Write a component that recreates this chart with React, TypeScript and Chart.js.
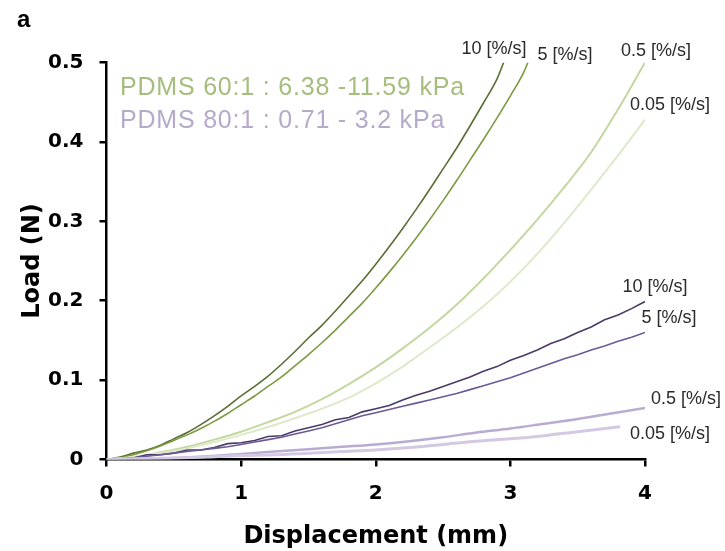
import React, { useEffect, useRef } from "react";
import { Chart, registerables } from "chart.js";

Chart.register(...registerables);

// ---- Data (Displacement in mm, Load in N) ----
const xTicks = [0, 1, 2, 3, 4];
const yTicks = [0, 0.1, 0.2, 0.3, 0.4, 0.5];

// PDMS 60:1
const g10X = [0, 0.1, 0.2, 0.3, 0.4, 0.5, 0.6, 0.7, 0.8, 0.9, 1.0, 1.1, 1.2, 1.3, 1.4, 1.5, 1.6, 1.7, 1.8, 1.9, 2.0, 2.1, 2.2, 2.3, 2.4, 2.5, 2.6, 2.7, 2.8, 2.9, 2.95];
const g10Y = [0, 0.003, 0.008, 0.012, 0.018, 0.026, 0.034, 0.044, 0.055, 0.067, 0.08, 0.092, 0.105, 0.12, 0.136, 0.153, 0.169, 0.187, 0.206, 0.225, 0.246, 0.268, 0.291, 0.315, 0.34, 0.366, 0.392, 0.42, 0.449, 0.479, 0.5];

const g5X = [0, 0.1, 0.2, 0.3, 0.4, 0.5, 0.6, 0.7, 0.8, 0.9, 1.0, 1.1, 1.2, 1.3, 1.4, 1.5, 1.6, 1.7, 1.8, 1.9, 2.0, 2.1, 2.2, 2.3, 2.4, 2.5, 2.6, 2.7, 2.8, 2.9, 3.0, 3.1, 3.13];
const g5Y = [0, 0.002, 0.006, 0.011, 0.017, 0.024, 0.031, 0.039, 0.048, 0.058, 0.069, 0.08, 0.092, 0.104, 0.118, 0.132, 0.147, 0.163, 0.18, 0.197, 0.216, 0.236, 0.257, 0.279, 0.302, 0.326, 0.351, 0.377, 0.403, 0.43, 0.458, 0.488, 0.5];

const g05X = [0, 0.2, 0.4, 0.6, 0.8, 1.0, 1.2, 1.4, 1.6, 1.8, 2.0, 2.2, 2.4, 2.6, 2.8, 3.0, 3.2, 3.4, 3.6, 3.8, 4.0];
const g05Y = [0, 0.003, 0.009, 0.016, 0.025, 0.035, 0.047, 0.06, 0.076, 0.095, 0.116, 0.14, 0.166, 0.195, 0.228, 0.264, 0.302, 0.343, 0.387, 0.441, 0.5];

const g005X = [0, 0.2, 0.4, 0.6, 0.8, 1.0, 1.2, 1.4, 1.6, 1.8, 2.0, 2.2, 2.4, 2.6, 2.8, 3.0, 3.2, 3.4, 3.6, 3.8, 4.0];
const g005Y = [0, 0.003, 0.008, 0.014, 0.022, 0.031, 0.041, 0.052, 0.064, 0.078, 0.096, 0.117, 0.141, 0.166, 0.193, 0.224, 0.259, 0.298, 0.34, 0.383, 0.428];

// PDMS 80:1
const p10X = [0, 0.1, 0.2, 0.3, 0.4, 0.5, 0.6, 0.7, 0.8, 0.9, 1.0, 1.1, 1.2, 1.3, 1.4, 1.5, 1.6, 1.7, 1.8, 1.9, 2.0, 2.1, 2.2, 2.3, 2.4, 2.5, 2.6, 2.7, 2.8, 2.9, 3.0, 3.1, 3.2, 3.3, 3.4, 3.5, 3.6, 3.7, 3.8, 3.9, 4.0];
const p10Y = [0, 0.001, 0.002, 0.006, 0.006, 0.008, 0.012, 0.012, 0.015, 0.02, 0.021, 0.024, 0.029, 0.03, 0.036, 0.04, 0.044, 0.05, 0.053, 0.06, 0.064, 0.068, 0.075, 0.081, 0.086, 0.092, 0.098, 0.104, 0.111, 0.117, 0.125, 0.131, 0.138, 0.146, 0.152, 0.16, 0.167, 0.176, 0.182, 0.19, 0.199];

const p5X = [0, 0.1, 0.2, 0.3, 0.4, 0.5, 0.6, 0.7, 0.8, 0.9, 1.0, 1.1, 1.2, 1.3, 1.4, 1.5, 1.6, 1.7, 1.8, 1.9, 2.0, 2.1, 2.2, 2.3, 2.4, 2.5, 2.6, 2.7, 2.8, 2.9, 3.0, 3.1, 3.2, 3.3, 3.4, 3.5, 3.6, 3.7, 3.8, 3.9, 4.0];
const p5Y = [0, 0, 0.002, 0.004, 0.006, 0.008, 0.01, 0.012, 0.014, 0.016, 0.019, 0.022, 0.025, 0.028, 0.032, 0.036, 0.04, 0.045, 0.05, 0.055, 0.059, 0.063, 0.067, 0.071, 0.075, 0.079, 0.083, 0.088, 0.093, 0.098, 0.103, 0.109, 0.115, 0.121, 0.127, 0.132, 0.138, 0.143, 0.149, 0.154, 0.16];

const p05X = [0, 0.25, 0.5, 0.75, 1.0, 1.25, 1.5, 1.75, 2.0, 2.25, 2.5, 2.75, 3.0, 3.25, 3.5, 3.75, 4.0];
const p05Y = [0, 0.001, 0.002, 0.004, 0.007, 0.01, 0.013, 0.016, 0.019, 0.023, 0.028, 0.034, 0.039, 0.045, 0.051, 0.058, 0.065];

const p005X = [0, 0.25, 0.5, 0.75, 1.0, 1.25, 1.5, 1.75, 2.0, 2.25, 2.5, 2.75, 3.0, 3.25, 3.5, 3.75, 3.815];
const p005Y = [0, 0.001, 0.002, 0.003, 0.005, 0.006, 0.008, 0.01, 0.012, 0.015, 0.019, 0.023, 0.026, 0.03, 0.035, 0.04, 0.0413];

// Curve labels (data coordinates)
const labelTexts = ["10 [%/s]", "5 [%/s]", "0.5 [%/s]", "0.05 [%/s]", "10 [%/s]", "5 [%/s]", "0.5 [%/s]", "0.05 [%/s]"];
const labelX = [2.879, 3.406, 4.082, 4.186, 4.075, 4.179, 4.305, 4.186];
const labelY = [0.517, 0.509, 0.514, 0.4465, 0.2166, 0.178, 0.0762, 0.0321];

const legendTexts = ["PDMS 60:1 : 6.38 -11.59 kPa", "PDMS 80:1 : 0.71 - 3.2 kPa"];
const legendX = [0.1, 0.1];
const legendY = [0.459, 0.4175];
const legendColors = ["#a5bd7d", "#b6aacb"];

const zip = (xs: number[], ys: number[]) => xs.map((x, i) => ({ x, y: ys[i] }));

const annotPlugin = {
  id: "annot",
  afterDraw(chart: any) {
    const { ctx } = chart;
    const xs = chart.scales.x;
    const ys = chart.scales.y;
    ctx.save();
    ctx.fillStyle = "#000";
    ctx.font = "bold 24px 'Liberation Sans', Arial, sans-serif";
    ctx.textAlign = "left";
    ctx.textBaseline = "alphabetic";
    ctx.fillText("a", 17, 27);
    ctx.font = "25px 'Liberation Sans', Arial, sans-serif";
    (ctx as any).letterSpacing = "0.8px";
    legendTexts.forEach((t, i) => {
      ctx.fillStyle = legendColors[i];
      ctx.fillText(t, xs.getPixelForValue(legendX[i]), ys.getPixelForValue(legendY[i]));
    });
    ctx.font = "18px 'Liberation Sans', Arial, sans-serif";
    (ctx as any).letterSpacing = "0px";
    ctx.fillStyle = "#2a2a2a";
    ctx.textAlign = "center";
    ctx.textBaseline = "middle";
    labelTexts.forEach((t, i) => {
      ctx.fillText(t, xs.getPixelForValue(labelX[i]), ys.getPixelForValue(labelY[i]));
    });
    ctx.restore();
  },
};

export default function App() {
  const ref = useRef<HTMLCanvasElement | null>(null);
  useEffect(() => {
    if (!ref.current) return;
    const line = (data: any, color: string, width: number, smooth: boolean) => ({
      data,
      borderColor: color,
      backgroundColor: color,
      borderWidth: width,
      pointRadius: 0,
      fill: false,
      tension: smooth ? 0.4 : 0,
      cubicInterpolationMode: smooth ? "monotone" : "default",
      showLine: true,
    });
    const tickFont = { family: "'DejaVu Sans', sans-serif", weight: "bold", size: 20 };
    const titleFont = { family: "'DejaVu Sans', sans-serif", weight: "bold", size: 24 };
    const chart = new Chart(ref.current, {
      type: "scatter",
      data: {
        datasets: [
          line(zip(p005X, p005Y), "#d3c9e3", 3, true),
          line(zip(p05X, p05Y), "#b9acd2", 2.5, true),
          line(zip(p5X, p5Y), "#6b5a96", 1.6, false),
          line(zip(p10X, p10Y), "#4a3a68", 1.6, false),
          line(zip(g005X, g005Y), "#dde9c9", 2, true),
          line(zip(g05X, g05Y), "#c3d8a0", 2, true),
          line(zip(g5X, g5Y), "#7b9b40", 1.6, true),
          line(zip(g10X, g10Y), "#5a6e33", 1.6, true),
        ],
      },
      options: {
        animation: false,
        responsive: false,
        layout: { padding: { top: 62.5, right: 80, bottom: 0, left: 0 } },
        plugins: { legend: { display: false }, tooltip: { enabled: false } },
        scales: {
          x: {
            type: "linear",
            min: 0,
            max: 4,
            afterFit: (s: any) => { s.height = 91.5; },
            afterBuildTicks: (s: any) => { s.ticks = xTicks.map((v) => ({ value: v })); },
            ticks: { color: "#000", padding: 15, font: tickFont },
            grid: { display: true, drawOnChartArea: false, drawTicks: true, tickLength: 7, color: "#000", lineWidth: 2.5 },
            border: { display: true, color: "#000", width: 2.5 },
            title: {
              display: true,
              text: "Displacement (mm)",
              color: "#000",
              padding: { top: 0, bottom: 0 },
              font: titleFont,
            },
          },
          y: {
            type: "linear",
            min: 0,
            max: 0.5,
            afterFit: (s: any) => { s.width = 106.5; },
            afterBuildTicks: (s: any) => { s.ticks = yTicks.map((v) => ({ value: v })); },
            ticks: {
              color: "#000",
              padding: 16,
              callback: (v: any) => String(Math.round(Number(v) * 10) / 10),
              font: tickFont,
            },
            grid: { display: true, drawOnChartArea: false, drawTicks: true, tickLength: 7, color: "#000", lineWidth: 2.5 },
            border: { display: true, color: "#000", width: 2.5 },
            title: {
              display: true,
              text: "Load (N)",
              color: "#000",
              padding: { top: 18, bottom: 0 },
              font: titleFont,
            },
          },
        },
      },
      plugins: [annotPlugin],
    } as any);
    return () => chart.destroy();
  }, []);
  return (
    <div style={{ position: "fixed", left: 0, top: 0, width: 725, height: 551, background: "#fff" }}>
      <canvas ref={ref} width={725} height={551} />
    </div>
  );
}
